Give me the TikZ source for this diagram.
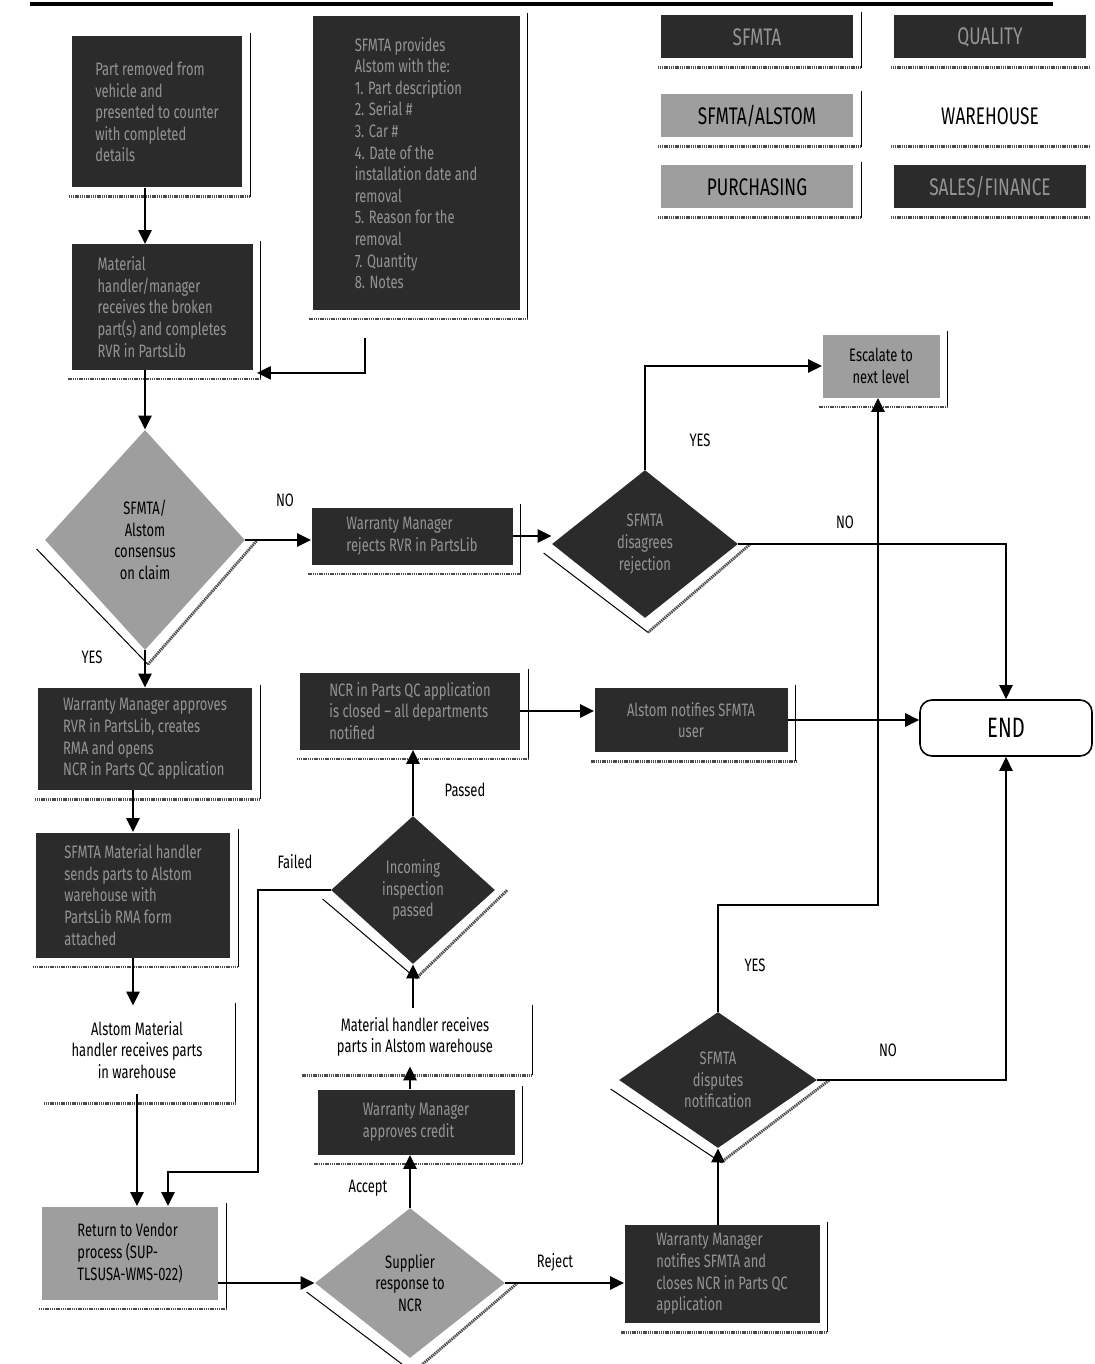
\documentclass[tikz,border=0pt]{standalone}
\usepackage{fontspec}
\setmainfont{Fira Sans}[FakeStretch=0.72]
\usetikzlibrary{shapes.geometric,calc,arrows.meta}
\definecolor{inkdark}{gray}{0.17}
\definecolor{inklight}{gray}{0.62}
\definecolor{dimtext}{gray}{0.58}

\tikzset{
  darkbox/.style={rectangle,fill=inkdark,text=dimtext,align=left,inner sep=4pt,font=\fontsize{9}{10.8}\selectfont},
  lightbox/.style={rectangle,fill=inklight,text=black,align=left,inner sep=4pt,font=\fontsize{9}{10.8}\selectfont},
  whitebox/.style={rectangle,fill=white,text=black,align=center,inner sep=4pt,font=\fontsize{9}{10.8}\selectfont},
  darkdiam/.style={diamond,fill=inkdark,text=dimtext,align=center,inner sep=0pt,font=\fontsize{9}{10.8}\selectfont},
  lightdiam/.style={diamond,fill=inklight,text=black,align=center,inner sep=0pt,font=\fontsize{9}{10.8}\selectfont},
  legend/.style={minimum width=96pt,minimum height=21.5pt,align=center,font=\fontsize{12}{14}\selectfont},
  endbox/.style={rectangle,draw,line width=0.8pt,rounded corners=6pt,fill=white,font=\fontsize{14}{16}\selectfont},
  lbl/.style={font=\fontsize{9}{10.8}\selectfont},
  flow/.style={line width=1.2pt,-{Stealth[length=7pt,width=6.5pt,inset=0pt]}},
  rimline/.style={line width=0.5pt},
  rimhatch/.style={line width=1.4pt,black!70,dash pattern=on 0.7pt off 0.4pt}
}

\begin{document}
\begin{tikzpicture}[x=0.5pt,y=-0.5pt]
\useasboundingbox (0,0) rectangle (1094,1364);
\draw[line width=1.6pt] (30,4)--(1053,4);

% legend
\node[darkbox,legend] (lgsfmta) at (757,37) {SFMTA};
\node[darkbox,legend] (lgquality) at (990,37) {QUALITY};
\node[lightbox,legend] (lgboth) at (757,116) {SFMTA/ALSTOM};
\node[whitebox,legend] (lgwh) at (990,116) {WAREHOUSE};
\node[lightbox,legend] (lgpurch) at (757,187) {PURCHASING};
\node[darkbox,legend] (lgsales) at (990,187) {SALES/FINANCE};

% left column
\node[darkbox,minimum width=85pt,minimum height=75.5pt] (remove) at (157,112) {Part removed from\\vehicle and\\presented to counter\\with completed\\details};
\node[darkbox,minimum width=103.5pt,minimum height=146.5pt] (provide) at (416,163) {SFMTA provides\\Alstom with the:\\1. Part description\\2. Serial \#\\3. Car \#\\4. Date of the\\installation date and\\removal\\5. Reason for the\\removal\\7. Quantity\\8. Notes};
\node[darkbox,minimum width=90.5pt,minimum height=62.5pt] (receive) at (162,307) {Material\\handler/manager\\receives the broken\\part(s) and completes\\RVR in PartsLib};
\node[lightdiam,minimum width=100pt,minimum height=110pt] (consensus) at (145,540) {SFMTA/\\Alstom\\consensus\\on claim};
\node[darkbox,minimum width=107pt,minimum height=51pt] (approve) at (145,739) {Warranty Manager approves\\RVR in PartsLib, creates\\RMA and opens\\NCR in Parts QC application};
\node[darkbox,minimum width=97pt,minimum height=62.5pt] (send) at (133,895) {SFMTA Material handler\\sends parts to Alstom\\warehouse with\\PartsLib RMA form\\attached};
\node[whitebox,minimum width=90pt,minimum height=44pt] (alstomrcv) at (137,1050) {Alstom Material\\handler receives parts\\in warehouse};
\node[lightbox,minimum width=88pt,minimum height=46.5pt] (rtv) at (130,1253) {Return to Vendor\\process (SUP-\\TLSUSA-WMS-022)};

% middle
\node[darkbox,minimum width=100.5pt,minimum height=28.5pt] (reject) at (412,536) {Warranty Manager\\rejects RVR in PartsLib};
\node[darkdiam,minimum width=93pt,minimum height=74pt] (disagree) at (645,544) {SFMTA\\disagrees\\rejection};
\node[lightbox,minimum width=58.5pt,minimum height=31.5pt,align=center] (escalate) at (881,366) {Escalate to\\next level};
\node[darkbox,minimum width=110pt,minimum height=38.5pt] (ncrclose) at (410,711) {NCR in Parts QC application\\is closed – all departments\\notified};
\node[darkbox,minimum width=96.5pt,minimum height=32pt,align=center] (inform) at (691,720) {Alstom notifies SFMTA\\user};
\node[endbox,minimum width=86pt,minimum height=28pt] (end) at (1006,728) {END};
\node[darkdiam,minimum width=82pt,minimum height=74pt] (inspect) at (413,890) {Incoming\\inspection\\passed};
\node[whitebox,minimum width=109.5pt,minimum height=29pt] (mhrcv) at (415,1037) {Material handler receives\\parts in Alstom warehouse};
\node[darkbox,minimum width=98.5pt,minimum height=32.5pt] (credit) at (416,1122) {Warranty Manager\\approves credit};
\node[lightdiam,minimum width=95pt,minimum height=75pt] (supplier) at (410,1283) {Supplier\\response to\\NCR};
\node[darkdiam,minimum width=99pt,minimum height=68pt] (dispute) at (718,1080) {SFMTA\\disputes\\notification};
\node[darkbox,minimum width=97.5pt,minimum height=49pt] (notify) at (722,1274) {Warranty Manager\\notifies SFMTA and\\closes NCR in Parts QC\\application};

% shadow rims
\foreach \n in {remove,provide,receive,approve,send,alstomrcv,rtv,reject,escalate,ncrclose,inform,mhrcv,credit,notify,lgsfmta,lgboth,lgpurch}{
  \draw[rimline] ($(\n.north east)+(8,-3)$) -- ($(\n.south east)+(8,9)$);
  \draw[rimhatch] ($(\n.south west)+(-3,9)$) -- ($(\n.south east)+(8,9)$);
}
\foreach \n in {lgquality,lgwh,lgsales}
  \draw[rimhatch] ($(\n.south west)+(-3,9)$) -- ($(\n.south east)+(3,9)$);
\foreach \n in {consensus,disagree,inspect,supplier,dispute}{
  \draw[rimline] ($(\n.west)+(-8,9)$) -- ($(\n.south)+(3,14)$);
  \draw[rimhatch] ($(\n.south)+(3,14)$) -- ($(\n.east)+(12,0)$);
}

% labels
\node[lbl] (lno1) at (285,500) {NO};
\node[lbl] (lyes1) at (92,657) {YES};
\node[lbl] (lyes2) at (700,440) {YES};
\node[lbl] (lno2) at (845,522) {NO};
\node[lbl] (lpass) at (465,790) {Passed};
\node[lbl] (lfail) at (295,862) {Failed};
\node[lbl] (lyes3) at (755,965) {YES};
\node[lbl] (lno3) at (888,1050) {NO};
\node[lbl] (laccept) at (368,1188) {Accept};
\node[lbl] (lreject) at (555,1262) {Reject};

% connectors
\coordinate (cbend) at (365,338);
\coordinate (failbend) at (258,1172);
\coordinate (escbend) at (878,905);
\draw[flow] (remove.south -| consensus.north) -- (receive.north -| consensus.north);
\draw[flow] (cbend) |- ($(receive.south east)+(4,3)$);
\draw[flow] (receive.south -| consensus.north) -- (consensus.north);
\draw[flow] (consensus.east) -- (consensus.east -| reject.west);
\draw[flow] (reject.east) -- (reject.east -| disagree.west);
\draw[flow] (disagree.north) |- (escalate.west);
\draw[flow] (disagree.east) -| (end.north);
\draw[flow] (consensus.south) -- (approve.north);
\draw[flow] (approve.south -| send.north) -- (send.north);
\draw[flow] (send.south) -- (send.south |- alstomrcv.north);
\draw[flow] (alstomrcv.south) -- (alstomrcv.south |- rtv.north);
\draw[flow] (inspect.west) -| (failbend) -| ($(rtv.north)+(38,0)$);
\draw[flow] (supplier.west -| rtv.east) -- (supplier.west);
\draw[flow] (supplier.north) -- (supplier.north |- credit.south);
\draw[flow] (credit.north -| supplier.north) -- (mhrcv.south -| supplier.north);
\draw[flow] (mhrcv.north -| inspect.south) -- (inspect.south);
\draw[flow] (inspect.north) -- (inspect.north |- ncrclose.south);
\draw[flow] (ncrclose.east) -- (ncrclose.east -| inform.west);
\draw[flow] (inform.east) -- (inform.east -| end.west);
\draw[flow] (supplier.east) -- (supplier.east -| notify.west);
\draw[flow] (notify.north -| dispute.south) -- (dispute.south);
\draw[flow] (dispute.north) |- (escbend) -- (escbend |- escalate.south);
\draw[flow] (dispute.east) -| (end.south);
\end{tikzpicture}
\end{document}
